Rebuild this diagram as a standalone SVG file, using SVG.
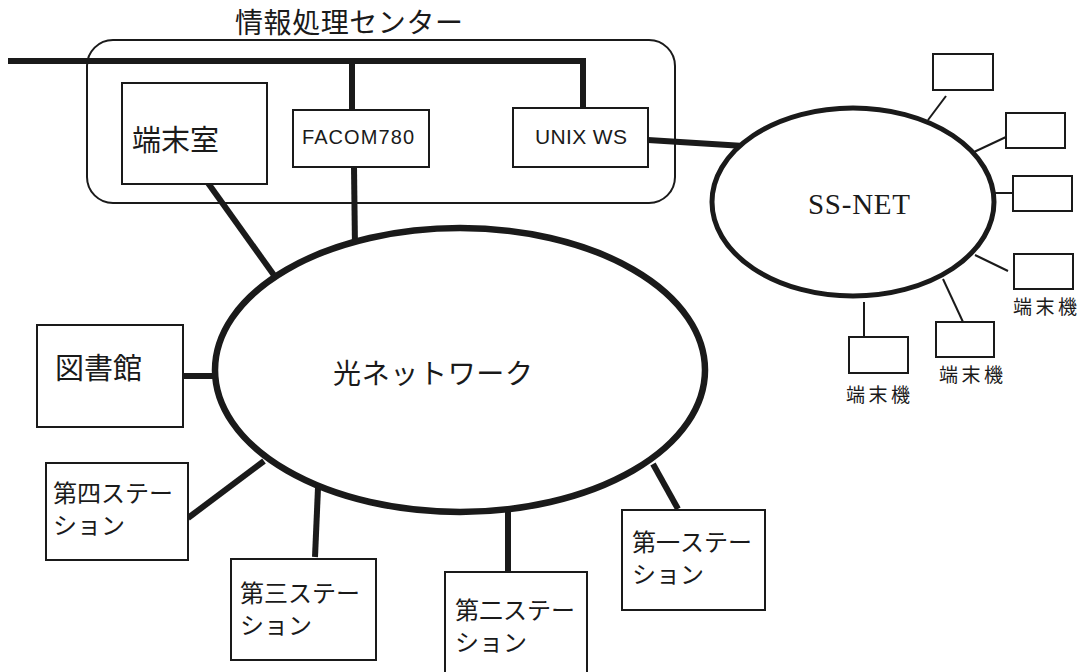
<svg xmlns="http://www.w3.org/2000/svg" width="1082" height="672" viewBox="0 0 1082 672">
<style>
.box{fill:#fff;stroke:#1a1a1a;stroke-width:2}
.ring{fill:#fff;stroke:#1a1a1a;stroke-width:6.5}
.thick{stroke:#1a1a1a;stroke-width:6;fill:none;stroke-linecap:butt}
.thin{stroke:#1a1a1a;stroke-width:2;fill:none}
.jp{font-family:"Noto Sans CJK JP","Noto Sans",sans-serif;fill:#1a1a1a}
.lat{font-family:"Liberation Sans",Arial,sans-serif;fill:#1a1a1a}
.ser{font-family:"Liberation Serif","Times New Roman",serif;fill:#1a1a1a}
</style>
<rect width="1082" height="672" fill="#fff"/>
<g id="center">
  <rect x="87" y="40" width="588" height="163" rx="26" ry="26" fill="none" stroke="#1a1a1a" stroke-width="2"/>
  <text class="jp" x="235" y="33" font-size="28" textLength="228">情報処理センター</text>
</g>
<g id="connectors">
  <polyline class="thick" points="8,61 583,61 583,108"/>
  <line class="thick" x1="352" y1="61" x2="352" y2="110"/>
  <line class="thick" x1="648" y1="140" x2="744" y2="146"/>
  <line class="thick" x1="208" y1="183" x2="276" y2="278"/>
  <line class="thick" x1="354" y1="167" x2="355" y2="248"/>
  <line class="thick" x1="183" y1="376" x2="216" y2="376"/>
  <line class="thick" x1="188" y1="518" x2="264" y2="461"/>
  <line class="thick" x1="315" y1="557" x2="318" y2="488"/>
  <line class="thick" x1="508" y1="573" x2="508" y2="511"/>
  <line class="thick" x1="678" y1="509" x2="653" y2="464"/>
  <line class="thin" x1="946" y1="96" x2="928" y2="120"/>
  <line class="thin" x1="1006" y1="137" x2="974" y2="152"/>
  <line class="thin" x1="994" y1="193" x2="1013" y2="193"/>
  <line class="thin" x1="975" y1="255" x2="1008" y2="271"/>
  <line class="thin" x1="943" y1="279" x2="963" y2="322"/>
  <line class="thin" x1="864" y1="302" x2="864" y2="337"/>
</g>
<g id="hikari">
  <ellipse class="ring" cx="460" cy="370" rx="245" ry="142"/>
  <text class="jp" x="333" y="384" font-size="28" textLength="200">光ネットワーク</text>
</g>
<g id="ssnet">
  <ellipse cx="853" cy="202" rx="141" ry="94" fill="#fff" stroke="#1a1a1a" stroke-width="5"/>
  <text class="ser" x="808" y="214" font-size="29" textLength="102">SS-NET</text>
</g>
<g id="tanmatsushitsu">
  <rect class="box" x="122" y="83" width="145" height="101"/>
  <text class="jp" x="132" y="151" font-size="29">端末室</text>
</g>
<g id="facom">
  <rect class="box" x="293" y="110" width="136" height="57"/>
  <text class="lat" x="302" y="144" font-size="20" textLength="112">FACOM780</text>
</g>
<g id="unix">
  <rect class="box" x="513" y="108" width="135" height="59"/>
  <text class="lat" x="535" y="144" font-size="21" textLength="92">UNIX WS</text>
</g>
<g id="toshokan">
  <rect class="box" x="37" y="325" width="146" height="102"/>
  <text class="jp" x="55" y="379" font-size="29">図書館</text>
</g>
<g id="st4">
  <rect class="box" x="46" y="463" width="142" height="97"/>
  <text class="jp" x="53" y="502" font-size="24">第四ステー</text>
  <text class="jp" x="53" y="534" font-size="24">ション</text>
</g>
<g id="st3">
  <rect class="box" x="231" y="559" width="145" height="101"/>
  <text class="jp" x="240" y="602" font-size="24">第三ステー</text>
  <text class="jp" x="240" y="634" font-size="24">ション</text>
</g>
<g id="st2">
  <rect class="box" x="445" y="572" width="142" height="110"/>
  <text class="jp" x="455" y="619" font-size="24">第二ステー</text>
  <text class="jp" x="455" y="651" font-size="24">ション</text>
</g>
<g id="st1">
  <rect class="box" x="622" y="510" width="143" height="100"/>
  <text class="jp" x="632" y="551" font-size="24">第一ステー</text>
  <text class="jp" x="632" y="583" font-size="24">ション</text>
</g>
<g id="termA"><rect class="box" x="933" y="54" width="60" height="36"/></g>
<g id="termB"><rect class="box" x="1006" y="113" width="59" height="35"/></g>
<g id="termC"><rect class="box" x="1013" y="176" width="59" height="35"/></g>
<g id="termD">
  <rect class="box" x="1014" y="254" width="59" height="35"/>
  <text class="jp" x="1013" y="314" font-size="19" textLength="64">端末機</text>
</g>
<g id="termE">
  <rect class="box" x="936" y="322" width="58" height="35"/>
  <text class="jp" x="939" y="382" font-size="19" textLength="64">端末機</text>
</g>
<g id="termF">
  <rect class="box" x="849" y="337" width="59" height="36"/>
  <text class="jp" x="846" y="402" font-size="19" textLength="64">端末機</text>
</g>
</svg>
